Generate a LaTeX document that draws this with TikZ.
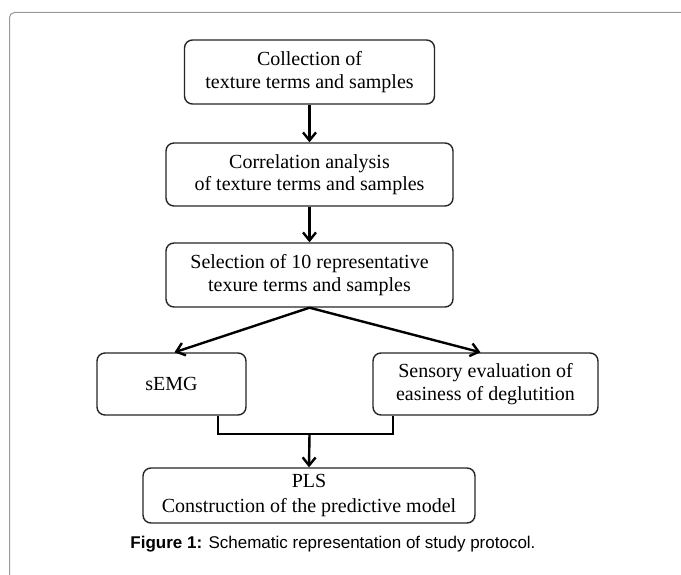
\documentclass[tikz,border=0pt]{standalone}
\usepackage{fontspec}
\setmainfont{Liberation Serif}
\newfontfamily\capfont{Liberation Sans}
\usetikzlibrary{arrows.meta}
\begin{document}
\begin{tikzpicture}[x=1pt,y=-1pt,
  box/.style={draw=black!85, line width=1.4pt, rounded corners=8pt, align=center,
    inner sep=0pt, font=\fontsize{20}{22.5}\selectfont},
  conn/.style={line width=2.4pt, black},
  arr/.style={conn, -{Straight Barb[length=8pt,width=13pt]}}]
\useasboundingbox (0,0) rectangle (681,575);
\fill[white] (0,0) rectangle (681,575);
\draw[black!40, line width=1pt, rounded corners=5pt] (9.5,575) -- (9.5,12.5) -- (681,12.5);

\node[box, minimum width=250pt, minimum height=64pt] (b1) at (309.5,72)
  {Collection of\\texture terms and samples};
\node[box, minimum width=287pt, minimum height=63pt] (b2) at (309.5,174.5)
  {Correlation analysis\\of texture terms and samples};
\node[box, minimum width=287pt, minimum height=64pt] (b3) at (309.5,275)
  {Selection of 10 representative\\texure terms and samples};
\node[box, minimum width=149pt, minimum height=62pt] (b4) at (171.5,384)
  {sEMG};
\node[box, minimum width=225pt, minimum height=62pt] (b5) at (485.5,384)
  {Sensory evaluation of\\easiness of deglutition};
\node[box, minimum width=332pt, minimum height=55pt, font=\fontsize{20}{25}\selectfont] (b6) at (309,495.5)
  {PLS\\Construction of the predictive model};
\node[anchor=base, font=\capfont\fontsize{17}{20}\selectfont, inner sep=0pt] (cap) at (333,548.5)
  {\textbf{Figure 1:} Schematic representation of study protocol.};

\coordinate (j) at (309.5,434);
\draw[arr] (b1) -- (b2);
\draw[arr] (b2) -- (b3);
\draw[arr] (b3.south) -- ([xshift=3pt]b4.north);
\draw[arr] (b3.south) -- ([xshift=-5pt]b5.north);
\draw[conn] ([xshift=46.5pt]b4.south) |- (j) -| ([xshift=-92.5pt]b5.south);
\draw[arr] (j) -- (b6.north);
\end{tikzpicture}
\end{document}
